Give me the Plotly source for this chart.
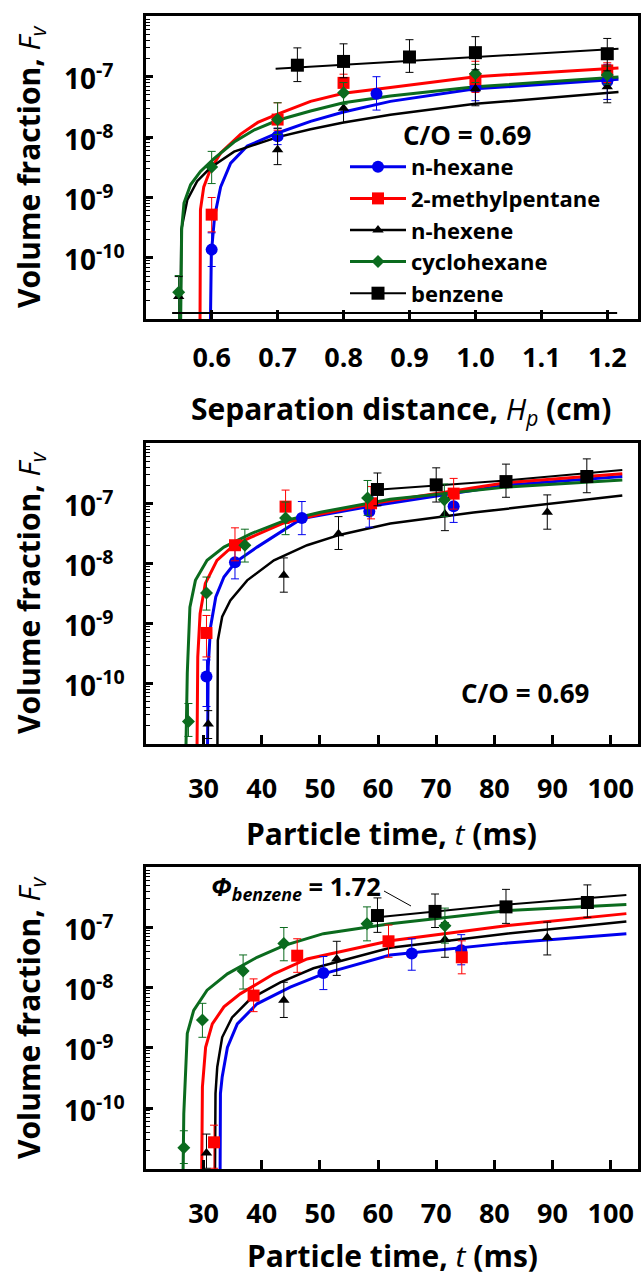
import math
import plotly.graph_objects as go

# ---------------- data ----------------
SERIES = ["n-hexane", "2-methylpentane", "n-hexene", "cyclohexane", "benzene"]

# Panel 1 : separation distance (cm)
p1_hexane_x = [0.6, 0.7, 0.85, 1.0, 1.2]
p1_hexane_y = [1.37e-10, 1.03e-8, 5.2e-8, 6.7e-8, 8.4e-8]
p1_hexane_hi = [2.6e-10, 1.4e-8, 1.0e-7, 1.1e-7, 1.6e-7]
p1_hexane_lo = [7.2e-11, 7.5e-9, 2.8e-8, 4.0e-8, 4.2e-8]
p1_mp_x = [0.6, 0.7, 0.8, 1.0, 1.2]
p1_mp_y = [5.2e-10, 1.95e-8, 7.9e-8, 9.1e-8, 1.27e-7]
p1_mp_hi = [1.0e-9, 3.7e-8, 1.1e-7, 1.8e-7, 1.7e-7]
p1_mp_lo = [2.7e-10, 1.3e-8, 5.5e-8, 5.5e-8, 8.0e-8]
p1_hexene_x = [0.55, 0.7, 0.8, 1.0, 1.2]
p1_hexene_y = [2.3e-11, 6.2e-9, 3.0e-8, 6.3e-8, 6.8e-8]
p1_hexene_hi = [4.9e-11, 1.4e-8, 5.5e-8, 1.2e-7, 1.1e-7]
p1_hexene_lo = [8e-12, 3.5e-9, 1.74e-8, 3.3e-8, 3.7e-8]
p1_cyc_x = [0.55, 0.6, 0.7, 0.8, 1.0, 1.2]
p1_cyc_y = [2.7e-11, 3.2e-9, 1.95e-8, 5.4e-8, 1.12e-7, 1.07e-7]
p1_cyc_hi = [5.1e-11, 5.8e-9, 3.7e-8, 8.0e-8, 1.6e-7, 1.5e-7]
p1_cyc_lo = [8e-12, 1.7e-9, 1.1e-8, 3.5e-8, 8.0e-8, 7.5e-8]
p1_benz_x = [0.73, 0.8, 0.9, 1.0, 1.2]
p1_benz_y = [1.55e-7, 1.79e-7, 2.12e-7, 2.5e-7, 2.4e-7]
p1_benz_hi = [3.0e-7, 3.5e-7, 4.1e-7, 4.6e-7, 4.3e-7]
p1_benz_lo = [8.3e-8, 9.6e-8, 1.18e-7, 1.3e-7, 1.25e-7]

p1_hexane_fx = [0.597, 0.5995, 0.6045, 0.6136, 0.6288, 0.654, 0.70, 0.75, 0.80, 0.871, 1.0, 1.217]
p1_hexane_fy = [1e-12, 1.2e-10, 4.9e-10, 1.5e-9, 3.7e-9, 7.1e-9, 1.17e-8, 1.82e-8, 2.6e-8, 3.9e-8, 6.3e-8, 9.1e-8]
p1_mp_fx = [0.582, 0.583, 0.588, 0.598, 0.614, 0.644, 0.67, 0.70, 0.75, 0.80, 0.871, 1.0, 1.217]
p1_mp_fy = [1e-12, 6.3e-10, 1.5e-9, 2.9e-9, 5.5e-9, 1.12e-8, 1.75e-8, 2.4e-8, 3.9e-8, 5.3e-8, 6.6e-8, 1.0e-7, 1.39e-7]
p1_hexene_fx = [0.552, 0.554, 0.563, 0.578, 0.598, 0.634, 0.70, 0.75, 0.80, 0.871, 1.0, 1.217]
p1_hexene_fy = [1e-12, 2.95e-10, 9.1e-10, 1.86e-9, 3.1e-9, 5.75e-9, 1.0e-8, 1.35e-8, 1.74e-8, 2.34e-8, 3.55e-8, 5.6e-8]
p1_cyc_fx = [0.552, 0.5545, 0.558, 0.568, 0.583, 0.6035, 0.634, 0.665, 0.70, 0.75, 0.80, 0.871, 1.0, 1.217]
p1_cyc_fy = [1e-12, 2.95e-10, 8.1e-10, 1.62e-9, 2.7e-9, 4.4e-9, 8.3e-9, 1.32e-8, 1.9e-8, 2.7e-8, 3.7e-8, 4.8e-8, 6.8e-8, 9.9e-8]
p1_benz_fx = [0.697, 0.95, 1.217]
p1_benz_fy = [1.36e-7, 1.95e-7, 2.9e-7]

# Panel 2 : particle time (ms)
p2_hexane_x = [30.5, 35.4, 46.9, 58.5, 73.0]
p2_hexane_y = [1.3e-10, 1.04e-8, 5.7e-8, 7.3e-8, 8.9e-8]
p2_hexane_hi = [2.45e-10, 2.0e-8, 1.07e-7, 1.3e-7, 1.6e-7]
p2_hexane_lo = [4.1e-11, 5.5e-9, 3.0e-8, 4.0e-8, 4.8e-8]
p2_mp_x = [30.5, 35.4, 44.1, 58.8, 73.0]
p2_mp_y = [6.9e-10, 2.0e-8, 8.8e-8, 1.0e-7, 1.45e-7]
p2_mp_hi = [1.35e-9, 3.9e-8, 1.66e-7, 1.9e-7, 2.6e-7]
p2_mp_lo = [2.75e-10, 1.1e-8, 4.6e-8, 5.5e-8, 8.0e-8]
p2_hexene_x = [30.8, 43.8, 53.2, 71.5, 89.1]
p2_hexene_y = [2.1e-11, 6.3e-9, 3.1e-8, 6.6e-8, 7.1e-8]
p2_hexene_hi = [3.5e-11, 1.23e-8, 6.0e-8, 1.25e-7, 1.38e-7]
p2_hexene_lo = [1.2e-11, 3.3e-9, 1.7e-8, 3.5e-8, 3.7e-8]
p2_cyc_x = [27.4, 30.5, 37.1, 44.1, 58.2, 71.4]
p2_cyc_y = [2.3e-11, 3.2e-9, 2.0e-8, 5.7e-8, 1.23e-7, 1.15e-7]
p2_cyc_hi = [4.6e-11, 5.9e-9, 3.7e-8, 1.05e-7, 2.4e-7, 2.1e-7]
p2_cyc_lo = [1.3e-11, 1.66e-9, 1.05e-8, 3.0e-8, 6.3e-8, 6.0e-8]
p2_benz_x = [59.9, 70.0, 82.0, 95.9]
p2_benz_y = [1.7e-7, 2.03e-7, 2.3e-7, 2.8e-7]
p2_benz_hi = [3.2e-7, 3.9e-7, 4.5e-7, 5.5e-7]
p2_benz_lo = [9.1e-8, 1.05e-7, 1.26e-7, 1.5e-7]

p2_hexane_fx = [30.6, 30.8, 31.2, 32.1, 33.5, 35.5, 39.2, 46.9, 59.2, 82.0, 102.0]
p2_hexane_fy = [1e-12, 1.9e-10, 8.7e-10, 2.75e-9, 5.9e-9, 1.05e-8, 1.86e-8, 5.6e-8, 9.1e-8, 2.0e-7, 2.8e-7]
p2_mp_fx = [28.8, 29.0, 29.4, 30.3, 32.3, 35.2, 38.1, 43.8, 50.1, 59.3, 82.0, 102.0]
p2_mp_fy = [1e-12, 2.75e-10, 1.45e-9, 4.6e-9, 1.12e-8, 2.0e-8, 2.7e-8, 4.7e-8, 6.6e-8, 1.0e-7, 2.2e-7, 3.1e-7]
p2_hexene_fx = [32.35, 32.45, 33.2, 34.6, 37.5, 42.1, 47.8, 53.5, 62.1, 76.4, 102.0]
p2_hexene_fy = [1e-12, 5.2e-10, 1.29e-9, 2.4e-9, 5.2e-9, 1.12e-8, 2.0e-8, 3.0e-8, 4.6e-8, 7.0e-8, 1.35e-7]
p2_cyc_fx = [26.8, 27.2, 27.65, 28.6, 30.6, 33.5, 38.1, 43.8, 50.1, 62.1, 82.0, 102.0]
p2_cyc_fy = [1e-12, 1.48e-10, 1.86e-9, 5.2e-9, 1.12e-8, 1.86e-8, 3.1e-8, 5.1e-8, 7.1e-8, 1.17e-7, 1.86e-7, 2.45e-7]
p2_benz_fx = [59.2, 82.0, 102.0]
p2_benz_fy = [1.66e-7, 2.4e-7, 3.6e-7]

# Panel 3 : particle time (ms), phi_benzene = 1.72
p3_hexane_x = [50.6, 65.8, 74.3]
p3_hexane_y = [1.75e-8, 3.7e-8, 4.2e-8]
p3_hexane_hi = [3.3e-8, 6.5e-8, 7.6e-8]
p3_hexane_lo = [9.3e-9, 1.95e-8, 2.4e-8]
p3_mp_x = [31.8, 38.6, 46.1, 61.8, 74.4]
p3_mp_y = [2.7e-11, 7.4e-9, 3.4e-8, 5.9e-8, 3.2e-8]
p3_mp_hi = [5.2e-11, 1.4e-8, 6.5e-8, 1.1e-7, 6.0e-8]
p3_mp_lo = [1e-11, 4.0e-9, 1.8e-8, 3.2e-8, 1.7e-8]
p3_hexene_x = [30.5, 43.8, 52.9, 71.5, 89.1]
p3_hexene_y = [1.8e-11, 6.2e-9, 3.0e-8, 6.3e-8, 6.8e-8]
p3_hexene_hi = [3.7e-11, 1.23e-8, 5.9e-8, 1.2e-7, 1.23e-7]
p3_hexene_lo = [1e-11, 3.2e-9, 1.6e-8, 3.2e-8, 3.5e-8]
p3_cyc_x = [26.6, 29.8, 36.8, 43.8, 58.1, 71.5]
p3_cyc_y = [2.2e-11, 2.9e-9, 1.9e-8, 5.4e-8, 1.15e-7, 1.07e-7]
p3_cyc_hi = [4.2e-11, 5.5e-9, 3.5e-8, 1.0e-7, 2.2e-7, 2.1e-7]
p3_cyc_lo = [1.2e-11, 1.5e-9, 9.5e-9, 2.8e-8, 6.0e-8, 5.5e-8]
p3_benz_x = [59.9, 69.8, 82.0, 96.0]
p3_benz_y = [1.58e-7, 1.85e-7, 2.2e-7, 2.6e-7]
p3_benz_hi = [3.1e-7, 3.6e-7, 4.3e-7, 5.1e-7]
p3_benz_lo = [8.3e-8, 1.0e-7, 1.17e-7, 1.48e-7]

p3_hexane_fx = [32.8, 32.9, 33.2, 34.1, 35.8, 39.2, 44.9, 50.6, 62.1, 82.0, 102.7]
p3_hexane_fy = [1e-12, 1.74e-10, 3.3e-10, 1.02e-9, 2.5e-9, 5.4e-9, 1.02e-8, 1.7e-8, 3.5e-8, 5.5e-8, 7.9e-8]
p3_mp_fx = [29.6, 29.8, 30.35, 31.5, 33.5, 36.3, 42.1, 47.8, 62.1, 82.0, 102.7]
p3_mp_fy = [1e-12, 2.24e-10, 1.02e-9, 2.5e-9, 4.8e-9, 7.9e-9, 1.7e-8, 3.0e-8, 6.0e-8, 1.07e-7, 1.7e-7]
p3_hexene_fx = [31.9, 32.05, 32.35, 33.2, 34.9, 38.1, 43.2, 48.9, 62.1, 82.0, 102.7]
p3_hexene_fy = [1e-12, 1.74e-10, 4.8e-10, 1.5e-9, 3.2e-9, 6.6e-9, 1.23e-8, 2.1e-8, 4.6e-8, 7.9e-8, 1.26e-7]
p3_cyc_fx = [26.35, 26.6, 27.2, 28.3, 30.6, 34.1, 39.2, 43.8, 50.6, 62.1, 82.0, 102.7]
p3_cyc_fy = [1e-12, 8.1e-11, 1.74e-9, 4.2e-9, 9.1e-9, 1.7e-8, 3.2e-8, 5.0e-8, 7.9e-8, 1.15e-7, 1.9e-7, 2.4e-7]
p3_benz_fx = [59.9, 82.0, 102.7]
p3_benz_fy = [1.48e-7, 2.4e-7, 3.47e-7]

# Ticks / labels
x1_ticks = [0.6, 0.7, 0.8, 0.9, 1.0, 1.1, 1.2]
x1_labels = ["0.6", "0.7", "0.8", "0.9", "1.0", "1.1", "1.2"]
t_ticks = [30, 40, 50, 60, 70, 80, 90, 100]
t_labels = ["30", "40", "50", "60", "70", "80", "90", "100"]
y_ticks = [1e-7, 1e-8, 1e-9, 1e-10]
y_labels = ["10<sup>-7</sup>", "10<sup>-8</sup>", "10<sup>-9</sup>", "10<sup>-10</sup>"]

# ---------------- styling ----------------
FONT = "Open Sans"
W, H = 641, 1275
L, R = 146, 3
PW = W - L - R


def pxx(px):
    return (px - L) / PW


def pxy(py):
    return 1 - py / H


STYLE = {
    "n-hexane": dict(color="#0000ee", symbol="circle", size=12, lw=3),
    "2-methylpentane": dict(color="#ff0000", symbol="square", size=12, lw=3),
    "n-hexene": dict(color="#000000", symbol="triangle-up", size=10, lw=2.5),
    "cyclohexane": dict(color="#0b6b1e", symbol="diamond", size=10, lw=3),
    "benzene": dict(color="#000000", symbol="square", size=13, lw=2),
}

panels = [
    dict(ax="", data={
        "n-hexane": (p1_hexane_x, p1_hexane_y, p1_hexane_hi, p1_hexane_lo, p1_hexane_fx, p1_hexane_fy),
        "2-methylpentane": (p1_mp_x, p1_mp_y, p1_mp_hi, p1_mp_lo, p1_mp_fx, p1_mp_fy),
        "n-hexene": (p1_hexene_x, p1_hexene_y, p1_hexene_hi, p1_hexene_lo, p1_hexene_fx, p1_hexene_fy),
        "cyclohexane": (p1_cyc_x, p1_cyc_y, p1_cyc_hi, p1_cyc_lo, p1_cyc_fx, p1_cyc_fy),
        "benzene": (p1_benz_x, p1_benz_y, p1_benz_hi, p1_benz_lo, p1_benz_fx, p1_benz_fy),
    }),
    dict(ax="2", data={
        "n-hexane": (p2_hexane_x, p2_hexane_y, p2_hexane_hi, p2_hexane_lo, p2_hexane_fx, p2_hexane_fy),
        "2-methylpentane": (p2_mp_x, p2_mp_y, p2_mp_hi, p2_mp_lo, p2_mp_fx, p2_mp_fy),
        "n-hexene": (p2_hexene_x, p2_hexene_y, p2_hexene_hi, p2_hexene_lo, p2_hexene_fx, p2_hexene_fy),
        "cyclohexane": (p2_cyc_x, p2_cyc_y, p2_cyc_hi, p2_cyc_lo, p2_cyc_fx, p2_cyc_fy),
        "benzene": (p2_benz_x, p2_benz_y, p2_benz_hi, p2_benz_lo, p2_benz_fx, p2_benz_fy),
    }),
    dict(ax="3", data={
        "n-hexane": (p3_hexane_x, p3_hexane_y, p3_hexane_hi, p3_hexane_lo, p3_hexane_fx, p3_hexane_fy),
        "2-methylpentane": (p3_mp_x, p3_mp_y, p3_mp_hi, p3_mp_lo, p3_mp_fx, p3_mp_fy),
        "n-hexene": (p3_hexene_x, p3_hexene_y, p3_hexene_hi, p3_hexene_lo, p3_hexene_fx, p3_hexene_fy),
        "cyclohexane": (p3_cyc_x, p3_cyc_y, p3_cyc_hi, p3_cyc_lo, p3_cyc_fx, p3_cyc_fy),
        "benzene": (p3_benz_x, p3_benz_y, p3_benz_hi, p3_benz_lo, p3_benz_fx, p3_benz_fy),
    }),
]

fig = go.Figure()

for p in panels:
    xa, ya = "x" + p["ax"], "y" + p["ax"]
    for name in SERIES:
        st = STYLE[name]
        x, y, hi, lo, fx, fy = p["data"][name]
        fig.add_trace(go.Scatter(
            x=fx, y=fy, mode="lines", xaxis=xa, yaxis=ya,
            line=dict(color=st["color"], width=st["lw"]),
            showlegend=False, hoverinfo="skip"))
    for name in SERIES:
        st = STYLE[name]
        x, y, hi, lo, fx, fy = p["data"][name]
        fig.add_trace(go.Scatter(
            x=x, y=y, mode="markers", xaxis=xa, yaxis=ya,
            marker=dict(color=st["color"], symbol=st["symbol"], size=st["size"]),
            error_y=dict(type="data", symmetric=False,
                         array=[h - v for h, v in zip(hi, y)],
                         arrayminus=[v - l for v, l in zip(y, lo)],
                         color=st["color"], thickness=1, width=4),
            showlegend=False, name=name))

# legend entries (panel 1)
for name in SERIES:
    st = STYLE[name]
    fig.add_trace(go.Scatter(
        x=[None], y=[None], mode="lines+markers", name=name, xaxis="x", yaxis="y",
        line=dict(color=st["color"], width=st["lw"]),
        marker=dict(color=st["color"], symbol=st["symbol"], size=st["size"]),
        showlegend=True))

# ---------------- axes ----------------
doms = [(16, 319), (443, 744), (867, 1169)]
xranges = [[0.5004, 1.2466], [20.1, 104.7], [20.1, 104.7]]
standoffs = [13, 19, 19]
for i, p in enumerate(panels):
    top, bot = doms[i]
    sfx = p["ax"]
    tv = x1_ticks if i == 0 else t_ticks
    tt = x1_labels if i == 0 else t_labels
    fig.layout["xaxis" + sfx] = dict(
        domain=[0, 1], anchor="y" + sfx, range=xranges[i],
        tickmode="array", tickvals=tv, ticktext=tt,
        ticks="inside", ticklen=9, tickwidth=3, tickcolor="black",
        showline=True, linewidth=3, linecolor="black", mirror=True,
        showgrid=False, zeroline=False, automargin=False,
        ticklabelstandoff=standoffs[i],
        tickfont=dict(family=FONT, size=27, color="black", weight="bold"))
    fig.layout["yaxis" + sfx] = dict(
        domain=[pxy(bot), pxy(top)], anchor="x" + sfx, type="log",
        range=[-11.012, -5.995],
        tickmode="linear", tick0=0, dtick=1,
        ticks="inside", ticklen=7, tickwidth=2.5, tickcolor="black",
        minor=dict(ticks="inside", ticklen=4, tickwidth=1.2, tickcolor="black", dtick="D1"),
        showticklabels=False,
        showline=True, linewidth=3, linecolor="black", mirror=True,
        showgrid=False, zeroline=False, automargin=False)

# ---------------- annotations ----------------
ann = []
ycenters = [167, 593, 1018]
for i, p in enumerate(panels):
    sfx = p["ax"]
    for v, lab in zip(y_ticks, y_labels):
        ann.append(dict(text="<b>" + lab + "</b>", xref="paper", yref="y" + sfx,
                        x=pxx(62), y=math.log10(v), xanchor="left", yanchor="middle",
                        showarrow=False, font=dict(family=FONT, size=28, color="black")))
    ann.append(dict(text="<b>Volume fraction, </b><i>F</i><sub><i>v</i></sub>",
                    xref="paper", yref="paper", x=pxx(30), y=pxy(ycenters[i]),
                    textangle=-90, xanchor="center", yanchor="middle", showarrow=False,
                    font=dict(family=FONT, size=30, color="black")))

xtitles = [("<b>Separation distance, </b><i>H</i><sub><i>p</i></sub><b> (cm)</b>", 401, 410),
           ("<b>Particle time, </b><i>t</i><b> (ms)</b>", 391, 833),
           ("<b>Particle time, </b><i>t</i><b> (ms)</b>", 392, 1255)]
for txt, cx, cy in xtitles:
    ann.append(dict(text=txt, xref="paper", yref="paper", x=pxx(cx), y=pxy(cy),
                    xanchor="center", yanchor="middle", showarrow=False,
                    font=dict(family=FONT, size=30, color="black")))

ann.append(dict(text="<b>C/O = 0.69</b>", xref="paper", yref="paper", x=pxx(401), y=pxy(135),
                xanchor="left", yanchor="middle", showarrow=False,
                font=dict(family=FONT, size=26, color="black")))
ann.append(dict(text="<b>C/O = 0.69</b>", xref="paper", yref="paper", x=pxx(459), y=pxy(693),
                xanchor="left", yanchor="middle", showarrow=False,
                font=dict(family=FONT, size=26, color="black")))
ann.append(dict(text="<b><i>Φ</i></b><sub><b><i>benzene</i></b></sub><b> = 1.72</b>",
                xref="paper", yref="paper", x=pxx(209), y=pxy(887),
                xanchor="left", yanchor="middle", showarrow=False,
                font=dict(family=FONT, size=25.5, color="black")))

shapes = [
    dict(type="line", xref="x", yref="paper", x0=0.54, x1=1.215, y0=pxy(313), y1=pxy(313),
         line=dict(color="black", width=2)),
    dict(type="line", xref="paper", yref="paper", x0=pxx(384), x1=pxx(411), y0=pxy(891), y1=pxy(906),
         line=dict(color="black", width=1)),
]

fig.update_layout(
    width=W, height=H,
    margin=dict(l=L, r=R, t=0, b=0, autoexpand=False),
    paper_bgcolor="white", plot_bgcolor="white",
    font=dict(family=FONT, color="black"),
    annotations=ann, shapes=shapes,
    legend=dict(x=pxx(345), y=pxy(146), xanchor="left", yanchor="top",
                bgcolor="rgba(0,0,0,0)", itemwidth=56, tracegroupgap=0,
                font=dict(family=FONT, size=22, color="black", weight="bold")),
)

fig.write_html("out.html", config={"displayModeBar": False},
               post_script="document.body.style.margin='0px';")
